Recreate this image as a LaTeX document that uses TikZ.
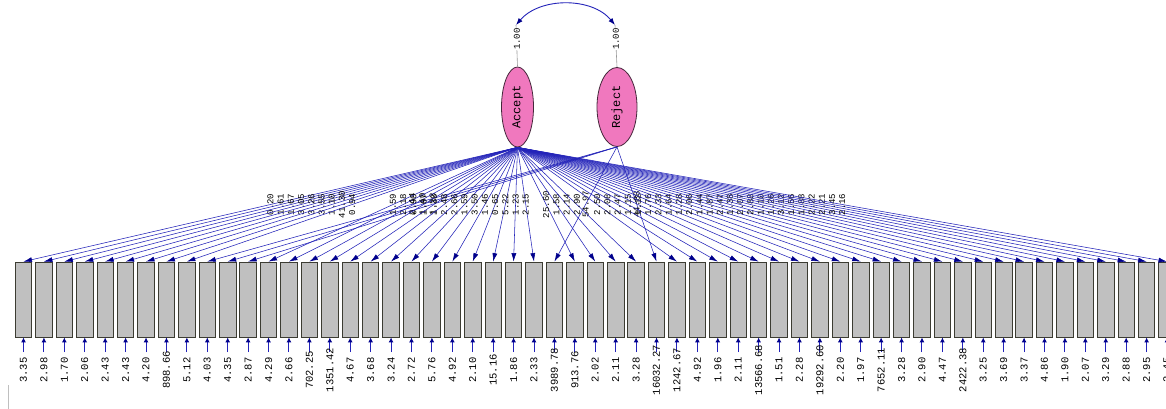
\documentclass[tikz,border=0pt]{standalone}
\usepackage{fontspec}
\usepackage{graphicx}
\setmonofont{Liberation Mono}
\usetikzlibrary{arrows.meta,shapes.geometric}
\definecolor{pathblue}{RGB}{35,35,185}
\definecolor{headblue}{RGB}{0,0,140}
\definecolor{lvpink}{RGB}{240,120,190}
\definecolor{lvedge}{RGB}{70,40,60}
\definecolor{boxgray}{RGB}{192,192,192}
\definecolor{boxedge}{RGB}{60,60,50}
\tikzset{
  obsbox/.style={draw=boxedge, fill=boxgray, minimum width=16.5pt, minimum height=75pt, inner sep=0pt, line width=0.8pt},
  latent/.style={ellipse, draw=lvedge, fill=lvpink, line width=0.8pt, inner sep=0pt, font=\ttfamily\fontsize{12}{12}\selectfont},
  loadpath/.style={draw=pathblue, line width=0.55pt, -{Latex[length=8.5pt,width=5pt,color=headblue]}},
  errpath/.style={draw=pathblue, line width=1pt, -{Latex[length=5pt,width=5pt,color=headblue]}},
  corrpath/.style={draw=pathblue, line width=0.9pt, {Latex[length=7pt,width=5pt,color=headblue]}-{Latex[length=7pt,width=5pt,color=headblue]}},
  varline/.style={draw=black!40, line width=0.6pt},
  varlab/.style={fill=white, inner sep=0.6pt, font=\ttfamily\fontsize{9}{9}\selectfont},
  loadlab/.style={inner sep=0pt, font=\ttfamily\fontsize{9}{9}\selectfont},
  errlab/.style={inner sep=0pt, font=\ttfamily\fontsize{10.5}{10.5}\selectfont}
}
\begin{document}
\begin{tikzpicture}[x=1pt,y=-1pt]
\useasboundingbox (0,0) rectangle (1166,409);
\clip (0,0) rectangle (1166,409);
\fill[white] (0,0) rectangle (1166,409);
\draw[black!25] (8,385) -- (8,409);
% latent variables
\node[latent, minimum width=32pt, minimum height=80pt] (A) at (517.5,107) {\rotatebox{90}{Accept}};
\node[latent, minimum width=40pt, minimum height=79pt] (R) at (617,107) {\rotatebox{90}{Reject}};
\coordinate (At) at (516,25);
\coordinate (Rt) at (615,25);
\draw[varline] (A.north) -- (At);
\draw[varline] (R.north) -- (Rt);
\node[varlab] (Av) at (517,39) {\rotatebox{90}{1.00}};
\node[varlab] (Rv) at (616,39) {\rotatebox{90}{1.00}};
\draw[corrpath] (At) .. controls (540,-3) and (592,-3) .. (Rt);
% indicators
\foreach \i/\ld/\er/\f in {
0/0.20/3.35/A, 1/1.61/2.98/A, 2/1.67/1.70/A, 3/3.05/2.06/A, 4/3.26/2.43/A,
5/3.55/2.43/A, 6/1.10/4.20/A, 7/41.30/898.66/A, 8/0.94/5.12/A, 9/2.44/4.03/R,
10/1.40/4.35/R, 11/1.23/2.87/R, 12/1.59/4.29/A, 13/2.18/2.66/A, 14/0.90/702.25/A,
15/1.07/1351.42/A, 16/1.38/4.67/A, 17/2.48/3.68/A, 18/2.66/3.24/A, 19/1.59/2.72/A,
20/3.50/5.76/A, 21/1.46/4.92/A, 22/0.65/2.10/A, 23/5.22/15.16/A, 24/1.23/1.86/A,
25/2.15/2.33/A, 26/54.97/3989.78/R, 27/25.60/913.76/A, 28/1.58/2.02/A, 29/2.14/2.11/A,
30/2.90/3.28/A, 31/44.83/16032.27/R, 32/2.50/1242.67/A, 33/2.08/4.92/A, 34/2.47/1.96/A,
35/1.15/2.11/A, 36/1.12/13566.68/A, 37/1.76/1.51/A, 38/2.33/2.28/A, 39/1.64/19292.60/A,
40/1.28/2.20/A, 41/2.06/1.97/A, 42/1.44/7652.11/A, 43/1.87/3.28/A, 44/2.47/2.90/A,
45/1.38/4.47/A, 46/2.07/2422.38/A, 47/2.88/3.25/A, 48/1.10/3.69/A, 49/1.26/3.37/A,
50/3.12/4.86/A, 51/1.56/1.90/A, 52/1.88/2.07/A, 53/2.22/3.29/A, 54/2.21/2.88/A,
55/3.45/2.95/A, 56/2.16/2.45/A}{
  \pgfmathsetmacro\bx{23.5+20.42*\i}
  \node[obsbox] (b\i) at (\bx,299.5) {};
  \coordinate (e\i) at (\bx,352);
  \draw[errpath] (e\i) -- (b\i.south);
  \node[errlab] (el\i) at (\bx,370) {\rotatebox{90}{\er}};
  \draw[loadpath] (\f.south) -- node[loadlab] (ll\i) {\rotatebox{90}{\ld}} (b\i.north);
}
\end{tikzpicture}
\end{document}
